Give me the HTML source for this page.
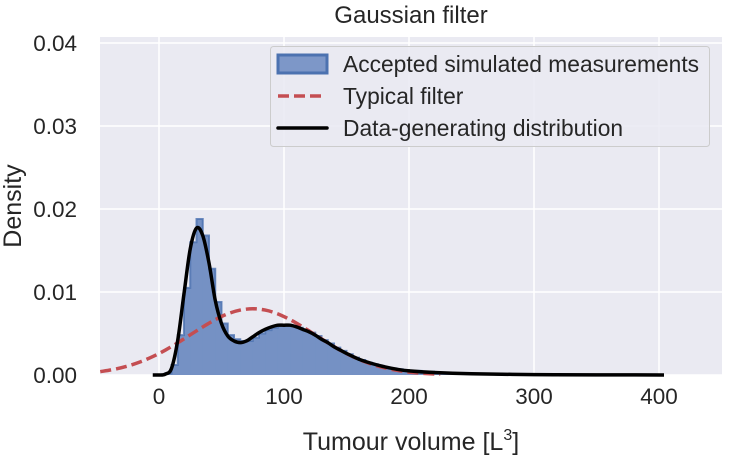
<!DOCTYPE html>
<html><head><meta charset="utf-8"><style>
html,body{margin:0;padding:0;background:#fff;}
svg text{font-family:"Liberation Sans",sans-serif;fill:#262626;}
</style></head><body>
<svg id="chart" width="737" height="457" xmlns="http://www.w3.org/2000/svg">
<rect x="100" y="37" width="622" height="338" fill="#eaeaf2"/>
<g id="grid"></g>
<g id="marks"></g>
<g id="ticks"></g>
<text x="411" y="23" font-size="24" text-anchor="middle">Gaussian filter</text>
<text x="411" y="450" font-size="25" text-anchor="middle">Tumour volume [L<tspan font-size="16" dy="-10">3</tspan><tspan dy="10">]</tspan></text>
<text transform="translate(21,206) rotate(-90)" font-size="25" text-anchor="middle">Density</text>
<g>
<rect x="270.5" y="46.5" width="439" height="100" rx="3" fill="#eaeaf2" fill-opacity="0.85" stroke="#cccccc"/>
<rect x="278" y="55" width="49" height="18" fill="#7d97c8" stroke="#4c72b0" stroke-width="3"/>
<text x="343" y="72" font-size="22.8">Accepted simulated measurements</text>
<line x1="278" y1="96" x2="325" y2="96" stroke="#c44e52" stroke-width="3.5" stroke-dasharray="11,5"/>
<text x="343" y="104" font-size="22.8">Typical filter</text>
<line x1="278" y1="128" x2="327" y2="128" stroke="#000" stroke-width="3.5" stroke-linecap="round"/>
<text x="343" y="136" font-size="22.8">Data-generating distribution</text>
</g>
</svg>
<script>
const xTicks=[0,100,200,300,400];
const yTicks=[0.00,0.01,0.02,0.03,0.04];
const histBinStart=[5,10,15,20,25,30,35,40,45,50,55,60,65,70,75,80,85,90,95,100,105,110,115,120,125,130,135,140,145,150,155,160,165,170,175,180,185,190,195,200,210,220,230,240,250,270];
const histDensity=[0.0002,0.0012,0.0048,0.0105,0.016,0.0188,0.0168,0.0128,0.0088,0.0062,0.0048,0.0043,0.0041,0.0041,0.0045,0.005,0.0054,0.0057,0.0059,0.006,0.0059,0.0057,0.0054,0.0051,0.0047,0.0042,0.0038,0.0033,0.0029,0.0025,0.0021,0.0018,0.0015,0.0013,0.0011,0.0009,0.0008,0.0007,0.0006,0.0005,0.0004,0.0003,0.0002,0.00015,0.0001,0.00005];
const curveX=[-5,0,5,10,15,20,25,30,35,40,45,50,55,60,65,70,75,80,85,90,95,100,105,110,115,120,125,130,135,140,145,150,160,170,180,190,200,220,250,300,350,404];
const curveY=[0,0,0.0001,0.0008,0.0042,0.0098,0.0152,0.0177,0.0168,0.0135,0.009,0.0062,0.0047,0.0041,0.0039,0.0041,0.0046,0.0051,0.0055,0.0058,0.006,0.006,0.006,0.0058,0.0055,0.0052,0.0048,0.0043,0.0039,0.0034,0.003,0.0026,0.0019,0.0014,0.001,0.0007,0.0005,0.0003,0.00015,0.00005,0.00002,0];
const filterX=[-47,-35,-25,-15,-5,5,15,25,35,45,55,65,75,85,95,105,115,125,135,145,155,165,175,185,195,205,215,225];
const filterY=[0.0004,0.00071,0.00108,0.00158,0.00222,0.00299,0.00388,0.00484,0.00579,0.00666,0.00737,0.00782,0.00798,0.00782,0.00737,0.00666,0.00579,0.00484,0.00388,0.00299,0.00222,0.00158,0.00108,0.00071,0.00045,0.00027,0.00016,0.00009];
const binWidth=5;
const NS="http://www.w3.org/2000/svg";
const X=v=>159+v*1.25;
const Y=v=>375-v*8300;
function mk(tag,parent,attrs){const e=document.createElementNS(NS,tag);for(const k in attrs)e.setAttribute(k,attrs[k]);parent.appendChild(e);return e;}
function smooth(xs,ys){
 const p=xs.map((x,i)=>[X(x),Y(ys[i])]);
 let d='M'+p[0][0]+','+p[0][1];
 for(let i=0;i<p.length-1;i++){
  const p0=p[Math.max(0,i-1)],p1=p[i],p2=p[i+1],p3=p[Math.min(p.length-1,i+2)];
  const c1=[p1[0]+(p2[0]-p0[0])/6,p1[1]+(p2[1]-p0[1])/6];
  const c2=[p2[0]-(p3[0]-p1[0])/6,p2[1]-(p3[1]-p1[1])/6];
  d+=' C'+c1[0]+','+c1[1]+' '+c2[0]+','+c2[1]+' '+p2[0]+','+p2[1];
 }
 return d;
}
const grid=document.getElementById('grid'),ticks=document.getElementById('ticks'),marks=document.getElementById('marks');
xTicks.forEach(t=>{
 const l=mk('line',grid,{x1:X(t),x2:X(t),y1:37,y2:375,stroke:'#fff','stroke-width':1.5});
 
 
 const tx=mk('text',ticks,{x:X(t),y:404,'font-size':22.5,'text-anchor':'middle'});tx.textContent=t;
 
 
});
yTicks.forEach(t=>{
 const l=mk('line',grid,{x1:100,x2:722,y1:Y(t),y2:Y(t),stroke:'#fff','stroke-width':1.5});
 
 
 const tx=mk('text',ticks,{x:77,y:Y(t)+8,'font-size':22.5,'text-anchor':'end'});tx.textContent=t.toFixed(2);
 
 
});
let step='M'+X(histBinStart[0])+','+Y(0);
histBinStart.forEach((b,i)=>{
 const w=(i<histBinStart.length-1)?histBinStart[i+1]-b:binWidth*2;
 const r=mk('rect',marks,{x:X(b),y:Y(histDensity[i]),width:w*1.25+0.3,height:Y(0)-Y(histDensity[i]),fill:'#7591c4'});
 
 
 step+=' L'+X(b)+','+Y(histDensity[i])+' L'+X(b+w)+','+Y(histDensity[i]);
});
const so=mk('path',marks,{d:step,fill:'none',stroke:'#4c72b0','stroke-width':2,'stroke-opacity':0.8});


const fp=mk('path',marks,{d:smooth(filterX,filterY),fill:'none',stroke:'#c44e52','stroke-width':3.5,'stroke-dasharray':'11,5'});


const cp=mk('path',marks,{d:smooth(curveX,curveY),fill:'none',stroke:'#000','stroke-width':3.5,'stroke-linejoin':'round'});


</script>
</body></html>
